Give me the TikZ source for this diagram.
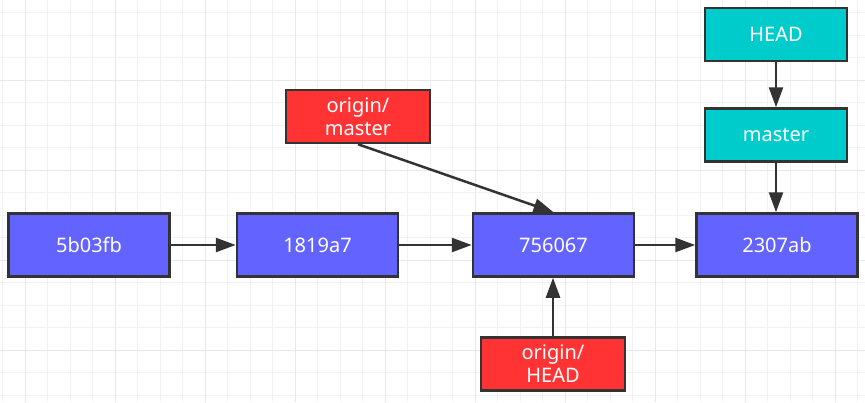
\documentclass[tikz,border=0pt]{standalone}
\usepackage{fontspec}
\setmainfont{Noto Sans}
\usetikzlibrary{arrows.meta}
\definecolor{commitblue}{HTML}{6363FF}
\definecolor{refred}{HTML}{FF3333}
\definecolor{headteal}{HTML}{00CCCC}
\definecolor{edgegray}{HTML}{333333}
\definecolor{gridminor}{HTML}{F2F2F2}
\definecolor{gridmajor}{HTML}{E8E8E8}
\begin{document}
\begin{tikzpicture}[x=1pt,y=-1pt,
  box/.style={draw=edgegray, line width=2.5pt, text=white, inner sep=0pt, align=center,
    font=\fontsize{20}{23}\selectfont},
  commit/.style={box, fill=commitblue, minimum width=161pt, minimum height=63pt},
  remote/.style={box, fill=refred, minimum width=144pt, minimum height=53pt},
  local/.style={box, fill=headteal, minimum width=142pt, minimum height=53pt},
  link/.style={draw=edgegray, line width=2.5pt, -{Triangle[length=20pt,width=14pt]}}
]
\useasboundingbox (0,0) rectangle (865,402);
\fill[white] (0,0) rectangle (865,402);
% grid
\foreach \i in {0,...,38} {
  \pgfmathsetmacro{\gx}{2.5+22.5*\i}
  \draw[gridminor, line width=1pt] (\gx,0) -- (\gx,402);
}
\foreach \j in {0,...,17} {
  \pgfmathsetmacro{\gy}{12.5+22.5*\j}
  \draw[gridminor, line width=1pt] (0,\gy) -- (865,\gy);
}
\foreach \i in {0,...,9} {
  \pgfmathsetmacro{\gx}{25+90*\i}
  \draw[gridmajor, line width=1pt] (\gx,0) -- (\gx,402);
}
\foreach \j in {0,...,4} {
  \pgfmathsetmacro{\gy}{80+90*\j}
  \draw[gridmajor, line width=1pt] (0,\gy) -- (865,\gy);
}
% nodes
\node[commit] (c1) at (89,245) {5b03fb};
\node[commit] (c2) at (317.5,245) {1819a7};
\node[commit] (c3) at (553.5,245) {756067};
\node[commit] (c4) at (777,245) {2307ab};
\node[local] (head) at (776,34.5) {HEAD};
\node[local] (master) at (776,135) {master};
\node[remote] (om) at (358,116.5) {origin/\\master};
\node[remote] (oh) at (553,364) {origin/\\HEAD};
% connectors
\draw[link] (c1) -- (c2);
\draw[link] (c2) -- (c3);
\draw[link] (c3) -- (c4);
\draw[link] (head) -- (master);
\draw[link] (master.south) -- (c4.north -| master.south);
\draw[link] (om.south) -- (c3.north);
\draw[link] (oh.north) -- (c3.south -| oh.north);
\end{tikzpicture}
\end{document}
